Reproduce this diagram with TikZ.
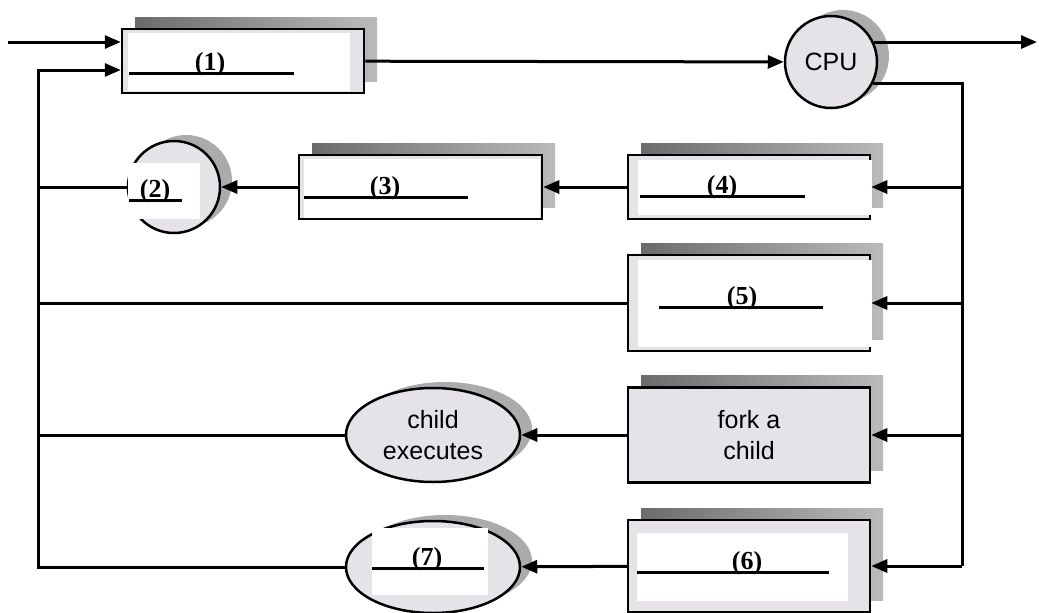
\documentclass[tikz,border=0pt]{standalone}
\usepackage{fontspec}
\setmainfont{Liberation Serif}
\newfontfamily\arialfont{Liberation Sans}
\usepackage{tikz}
\usetikzlibrary{arrows.meta, calc, shapes.geometric}
\usepackage{xcolor}
\definecolor{procfill}{RGB}{229,227,232}

\tikzset{
  every proc/.style={draw, line width=2.5pt, fill=procfill, inner sep=0pt,
    font=\arialfont\fontsize{25}{31}\selectfont, align=center},
  proc/.style={every proc, rectangle, minimum width=242pt,
    preaction={draw=none, left color=black!58, right color=black!27,
      transform canvas={xshift=13pt, yshift=12pt}}},
  round/.style={every proc,
    preaction={draw=none, fill=black!33,
      transform canvas={xshift=12pt, yshift=6pt}}},
  tag/.style={anchor=base, inner sep=0pt, font=\fontsize{26}{30}\selectfont\bfseries},
  blank line/.style={line width=3pt},
}

\begin{document}
\begin{tikzpicture}[x=1pt, y=-1pt, >={Triangle[length=16pt,width=13pt]}, line width=3pt]
      \useasboundingbox (0,0) rectangle (1039,613);

      % Queues and processes
      \node [proc, minimum height=64pt] (box-1) at (243,61) {};
      \node [round, circle, minimum size=92pt] (cpu) at (831,62) {CPU};
      \node [proc, minimum height=64pt] (box-4) at (749,187) {};
      \node [proc, minimum height=64pt, minimum width=243pt] (box-3) at (420.5,187) {};
      \node [round, circle, minimum size=92pt] (circ-2) at (174,187) {};
      \node [proc, minimum height=96pt] (box-5) at (749,303) {};
      \node [proc, minimum height=95pt] (fork) at (749,435) {fork a\\child};
      \node [round, ellipse, minimum width=174pt, minimum height=94pt] (child) at (433,435) {child\\executes};
      \node [proc, minimum height=92pt] (box-6) at (749,566) {};
      \node [round, ellipse, minimum width=174pt, minimum height=92pt] (ell-7) at (433,567) {};

      % White blanks over the nodes
      \foreach \a/\b/\c/\d in {128/33/350/91, 128/163/200/219, 304/159/540/218,
                               638/160/872/215, 638/260/872/347, 637/533/848/601, 372/528/488/595}
        \fill [white] (\a,\b) rectangle (\c,\d);

      % Add the labels to the blanks
      \foreach \n/\x/\a/\b/\y in {1/210/129/294/73, 2/155/129/182/200, 3/385/304/468/197,
                                  4/722/640/805/196, 5/742/659/823/307, 6/747/637/829/572, 7/427/372/484/568}{
        \node [tag] (tag-\n) at (\x,\y-3) {(\n)};
        \draw [blank line] (\a,\y) -- (\b,\y);
      }

      \coordinate (in) at (8,42);
      \coordinate (out) at (1037,43);
      \coordinate (ret) at (38,70);
      \coordinate (bus) at (962,0);

      % Draw the connecting arrows
      \draw [->] (in) -- (in -| box-1.west);
      \draw [->] (box-1) -- (cpu);
      \draw [->] (cpu.25) -- (cpu.25 -| out);
      \draw (cpu.-27) -| (bus |- box-6.east);

      \foreach \n in {box-4, box-5, fork, box-6}
        \draw [->] (bus |- \n.east) -- (\n.east);

      \draw [->] (box-4) -- (box-3);
      \draw [->] (box-3) -- (circ-2);
      \draw [->] (fork) -- (child);
      \draw [->] (box-6) -- (ell-7);

      \draw [->] (ell-7.west) -| (ret) -- (ret -| box-1.west);
      \foreach \n in {circ-2, box-5, child}
        \draw (\n.west) -- (\n.west -| ret);
    \end{tikzpicture}
\end{document}
